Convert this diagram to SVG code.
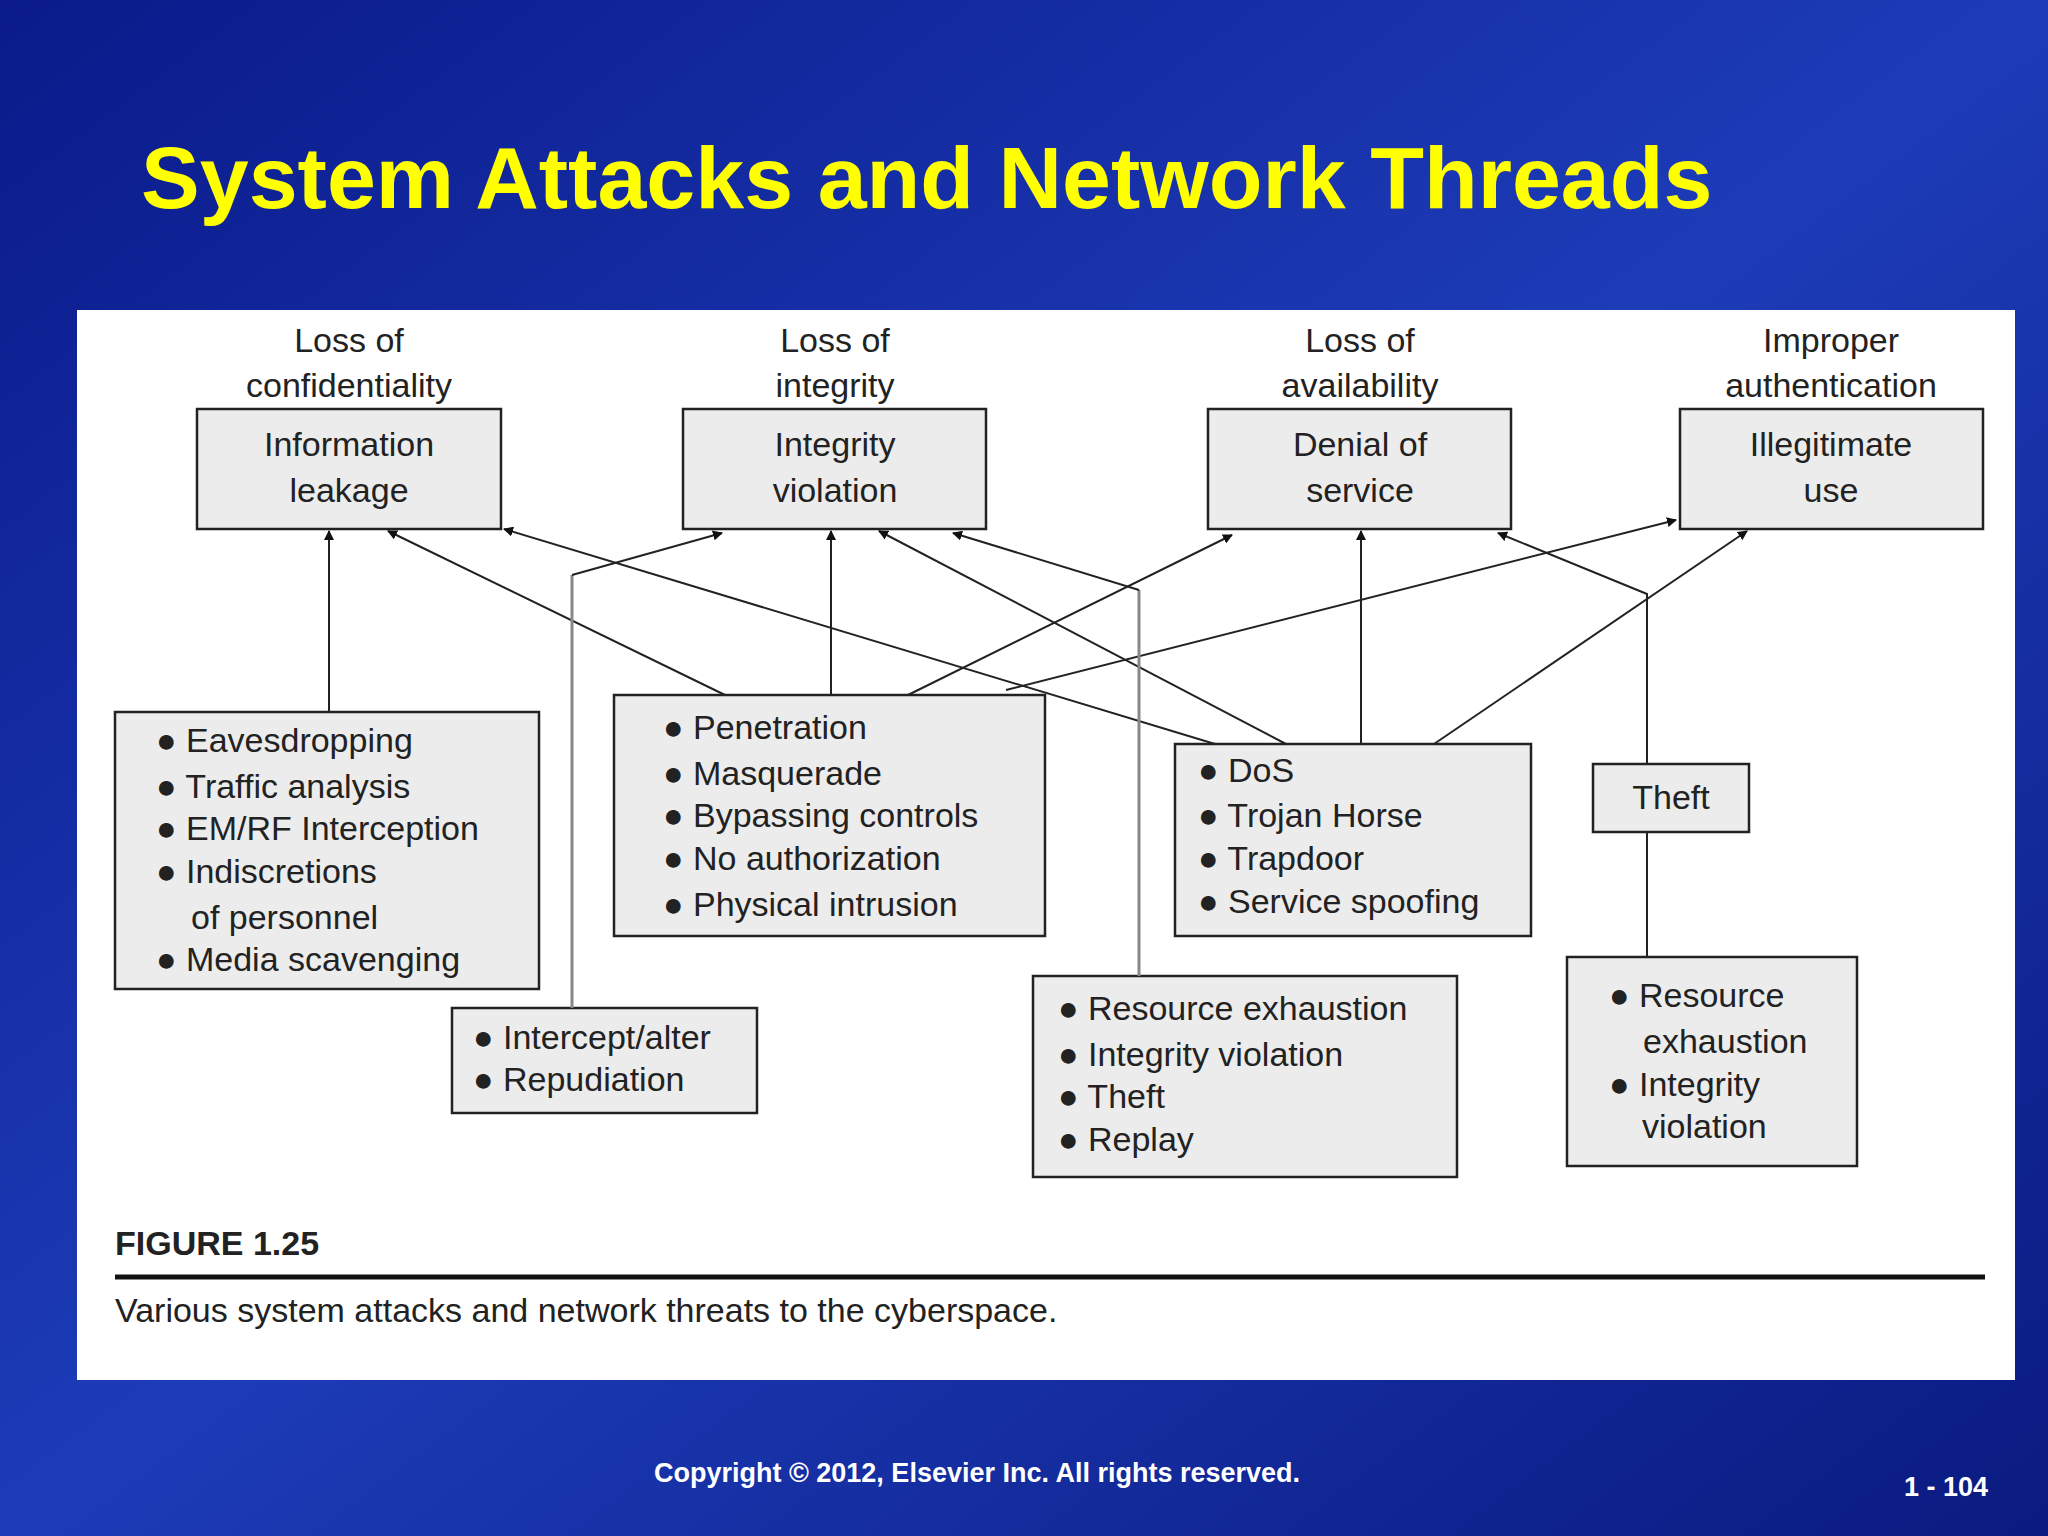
<svg xmlns="http://www.w3.org/2000/svg" width="2048" height="1536" viewBox="0 0 2048 1536">
<defs>
<linearGradient id="bg" x1="0" y1="0" x2="1" y2="1">
<stop offset="0" stop-color="#0a1a8a"/><stop offset="0.5" stop-color="#1d3cb8"/><stop offset="1" stop-color="#0a1a80"/>
</linearGradient>
<marker id="ah" markerWidth="10" markerHeight="10" refX="9" refY="5" orient="auto" markerUnits="userSpaceOnUse" viewBox="0 0 10 10"><path d="M0,0 L10,5 L0,10 z" fill="#111"/></marker>
<style>
.b{fill:#ececec;stroke:#222;stroke-width:2.5}
.t{font-family:"Liberation Sans",Arial,sans-serif;font-size:34px;fill:#222;dominant-baseline:central}
.c{text-anchor:middle}
.l{stroke:#222;stroke-width:2;fill:none}
.g{stroke:#888;stroke-width:3;fill:none}
</style>
</defs>
<rect width="2048" height="1536" fill="url(#bg)"/>
<text x="141" y="208" font-family="Liberation Sans,Arial,sans-serif" font-weight="bold" font-size="88" fill="#ffff00">System Attacks and Network Threads</text>
<rect x="77" y="310" width="1938" height="1070" fill="#fff"/>
<g class="t c">
<text x="349" y="340">Loss of</text><text x="349" y="385">confidentiality</text>
<text x="835" y="340">Loss of</text><text x="835" y="385">integrity</text>
<text x="1360" y="340">Loss of</text><text x="1360" y="385">availability</text>
<text x="1831" y="340">Improper</text><text x="1831" y="385">authentication</text>
</g>
<g id="info"><rect class="b" x="197" y="409" width="304" height="120"/><text class="t c" x="349" y="444">Information</text><text class="t c" x="349" y="490">leakage</text></g>
<g id="integ"><rect class="b" x="683" y="409" width="303" height="120"/><text class="t c" x="835" y="444">Integrity</text><text class="t c" x="835" y="490">violation</text></g>
<g id="dos-top"><rect class="b" x="1208" y="409" width="303" height="120"/><text class="t c" x="1360" y="444">Denial of</text><text class="t c" x="1360" y="490">service</text></g>
<g id="illeg"><rect class="b" x="1680" y="409" width="303" height="120"/><text class="t c" x="1831" y="444">Illegitimate</text><text class="t c" x="1831" y="490">use</text></g>
<g id="eaves"><rect class="b" x="115" y="712" width="424" height="277"/>
<g class="t"><text x="156" y="740">●  Eavesdropping</text><text x="156" y="786">●  Traffic analysis</text><text x="156" y="828">●  EM/RF Interception</text><text x="156" y="871">●  Indiscretions</text><text x="191" y="917">of personnel</text><text x="156" y="959">●  Media scavenging</text></g></g>
<g id="pen"><rect class="b" x="614" y="695" width="431" height="241"/>
<g class="t"><text x="663" y="727">●  Penetration</text><text x="663" y="773">●  Masquerade</text><text x="663" y="815">●  Bypassing controls</text><text x="663" y="858">●  No authorization</text><text x="663" y="904">●  Physical intrusion</text></g></g>
<g id="dos"><rect class="b" x="1175" y="744" width="356" height="192"/>
<g class="t"><text x="1198" y="770">●  DoS</text><text x="1198" y="815">●  Trojan Horse</text><text x="1198" y="858">●  Trapdoor</text><text x="1198" y="901">●  Service spoofing</text></g></g>
<g id="theft"><rect class="b" x="1593" y="764" width="156" height="68"/><text class="t c" x="1671" y="797">Theft</text></g>
<g id="intercept"><rect class="b" x="452" y="1008" width="305" height="105"/>
<g class="t"><text x="473" y="1037">●  Intercept/alter</text><text x="473" y="1079">●  Repudiation</text></g></g>
<g id="res"><rect class="b" x="1033" y="976" width="424" height="201"/>
<g class="t"><text x="1058" y="1008">●  Resource exhaustion</text><text x="1058" y="1054">●  Integrity violation</text><text x="1058" y="1096">●  Theft</text><text x="1058" y="1139">●  Replay</text></g></g>
<g id="res2"><rect class="b" x="1567" y="957" width="290" height="209"/>
<g class="t"><text x="1609" y="995">●  Resource</text><text x="1643" y="1041">exhaustion</text><text x="1609" y="1084">●  Integrity</text><text x="1642" y="1126">violation</text></g></g>
<g id="connectors">
<path class="l" d="M329,712 L329,531" marker-end="url(#ah)"/>
<path class="l" d="M725,695 L388,531" marker-end="url(#ah)"/>
<path class="l" d="M831,695 L831,531" marker-end="url(#ah)"/>
<path class="l" d="M908,695 L1232,535" marker-end="url(#ah)"/>
<path class="l" d="M1006,690 L1676,520" marker-end="url(#ah)"/>
<path class="l" d="M1215,744 L504,529" marker-end="url(#ah)"/>
<path class="l" d="M1286,744 L879,531" marker-end="url(#ah)"/>
<path class="l" d="M1361,744 L1361,531" marker-end="url(#ah)"/>
<path class="l" d="M1434,744 L1747,531" marker-end="url(#ah)"/>
<path class="l" d="M1647,764 L1647,594 L1498,533" marker-end="url(#ah)"/>
<path class="l" d="M1647,832 L1647,957"/>
<path class="g" d="M572,1008 L572,575"/><path class="l" d="M572,575 L722,533" marker-end="url(#ah)"/>
<path class="g" d="M1139,976 L1139,590"/><path class="l" d="M1139,590 L953,533" marker-end="url(#ah)"/>
</g>
<text x="115" y="1243" font-family="Liberation Sans,Arial,sans-serif" font-weight="bold" font-size="34" fill="#222" dominant-baseline="central">FIGURE 1.25</text>
<line x1="115" y1="1277" x2="1985" y2="1277" stroke="#111" stroke-width="5"/>
<text class="t" x="115" y="1310">Various system attacks and network threats to the cyberspace.</text>
<text x="977" y="1482" text-anchor="middle" font-family="Liberation Sans,Arial,sans-serif" font-weight="bold" font-size="27" fill="#fff">Copyright © 2012, Elsevier Inc. All rights reserved.</text>
<text x="1946" y="1496" text-anchor="middle" font-family="Liberation Sans,Arial,sans-serif" font-weight="bold" font-size="27" fill="#fff">1 - 104</text>
</svg>
